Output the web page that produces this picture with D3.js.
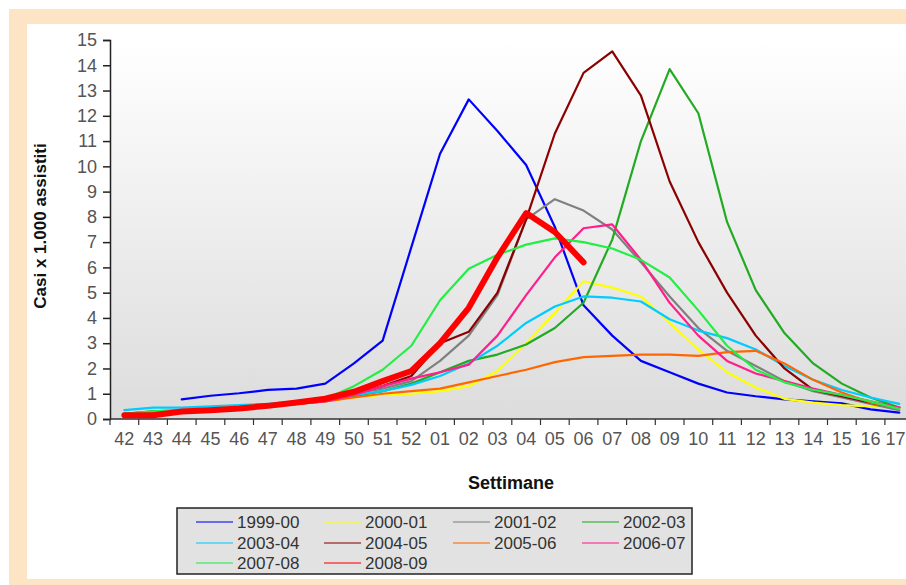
<!DOCTYPE html>
<html><head><meta charset="utf-8">
<script src="https://cdn.jsdelivr.net/npm/d3@7"></script>
<style>
html,body{margin:0;padding:0;background:#fff;}
svg{display:block;font-family:"Liberation Sans",Arial,sans-serif;}
</style></head>
<body>
<svg id="chart" width="906" height="585"></svg>
<script>
const categories = ["42","43","44","45","46","47","48","49","50","51","52","01","02","03","04","05","06","07","08","09","10","11","12","13","14","15","16","17"];
const yTicks = [0,1,2,3,4,5,6,7,8,9,10,11,12,13,14,15];
const seriesNames = ["1999-00","2000-01","2001-02","2002-03","2003-04","2004-05","2005-06","2006-07","2007-08","2008-09"];
const seriesColors = ["#0000ff","#ffff00","#808080","#22aa22","#00ccff","#8b0000","#ff6600","#ff1e8c","#22ee44","#ff0000"];
const s1999 = [null,null,0.78,0.92,1.02,1.15,1.2,1.4,2.2,3.1,6.8,10.5,12.65,11.4,10.05,7.6,4.5,3.3,2.3,1.85,1.4,1.05,0.9,0.78,0.7,0.62,0.38,0.25];
const s2000 = [0.2,0.3,0.35,0.4,0.45,0.55,0.6,0.7,0.85,0.95,1.0,1.1,1.3,1.9,3.0,4.2,5.45,5.2,4.85,3.8,2.75,1.85,1.25,0.8,0.65,0.55,0.5,0.45];
const s2001 = [0.2,0.3,0.35,0.4,0.45,0.55,0.65,0.75,1.0,1.2,1.5,2.3,3.3,4.9,7.9,8.7,8.25,7.5,6.2,4.85,3.6,2.7,2.1,1.5,1.1,0.85,0.6,0.35];
const s2002 = [0.2,0.3,0.3,0.4,0.45,0.55,0.6,0.7,0.9,1.1,1.4,1.85,2.3,2.55,2.95,3.6,4.6,7.1,11.0,13.85,12.1,7.8,5.1,3.4,2.2,1.4,0.85,0.45];
const s2003 = [0.35,0.45,0.45,0.5,0.55,0.6,0.7,0.8,0.95,1.1,1.35,1.7,2.2,2.9,3.8,4.45,4.85,4.8,4.65,3.95,3.5,3.2,2.75,2.1,1.55,1.15,0.85,0.6];
const s2004 = [0.15,0.2,0.3,0.35,0.45,0.55,0.65,0.8,1.0,1.3,1.7,3.0,3.45,5.0,7.9,11.3,13.7,14.55,12.8,9.4,7.0,5.0,3.3,2.0,1.15,0.9,0.65,0.45];
const s2005 = [0.15,0.2,0.3,0.35,0.4,0.5,0.6,0.7,0.85,1.0,1.1,1.2,1.45,1.7,1.95,2.25,2.45,2.5,2.55,2.55,2.5,2.65,2.7,2.2,1.55,1.05,0.65,0.45];
const s2006 = [0.15,0.2,0.3,0.35,0.4,0.5,0.6,0.7,0.95,1.3,1.6,1.85,2.15,3.3,4.9,6.4,7.55,7.7,6.3,4.6,3.3,2.3,1.8,1.5,1.2,0.95,0.7,0.45];
const s2007 = [0.2,0.3,0.35,0.4,0.5,0.55,0.65,0.8,1.3,1.95,2.9,4.7,5.95,6.5,6.9,7.15,7.0,6.75,6.3,5.6,4.3,2.9,1.95,1.45,1.15,0.95,0.7,0.4];
const s2008 = [0.15,0.15,0.3,0.35,0.42,0.52,0.65,0.8,1.08,1.5,1.9,3.0,4.4,6.4,8.15,7.4,6.2,null,null,null,null,null,null,null,null,null,null,null];
const seriesValues = [s1999,s2000,s2001,s2002,s2003,s2004,s2005,s2006,s2007,s2008];

const svg = d3.select("#chart");
// frame
svg.append("rect").attr("x",9).attr("y",9).attr("width",897).attr("height",576).attr("fill","#fde4c4");
svg.append("rect").attr("x",27).attr("y",24).attr("width",879).attr("height",555).attr("fill","#ffffff");

const plotL = 110, plotT = 40, plotB = 419, band = 28.7;
const x = d3.scaleBand().domain(categories).range([plotL, plotL + band*categories.length]).padding(0);
const y = d3.scaleLinear().domain([0,15]).range([plotB, plotT]);

const defs = svg.append("defs");
const grad = defs.append("linearGradient").attr("id","bg").attr("x1",0).attr("y1",0).attr("x2",0).attr("y2",1);
grad.append("stop").attr("offset","0%").attr("stop-color","#ffffff");
grad.append("stop").attr("offset","100%").attr("stop-color","#dcdcdc");
svg.append("rect").attr("x",plotL).attr("y",plotT).attr("width",906-plotL).attr("height",plotB-plotT).attr("fill","url(#bg)");

// y axis
const yAxis = svg.append("g").attr("transform",`translate(${plotL},0)`)
  .call(d3.axisLeft(y).tickValues(yTicks).tickSize(7).tickPadding(6).tickFormat(d3.format("d")));
yAxis.select(".domain").attr("stroke","#222").attr("stroke-width",1.5);
yAxis.selectAll(".tick line").attr("stroke","#222").attr("stroke-width",1.5);
yAxis.selectAll("text").attr("font-size",18).attr("fill","#555").attr("font-family","Liberation Sans, Arial");

// x axis
const xAxis = svg.append("g").attr("transform",`translate(0,${plotB})`)
  .call(d3.axisBottom(x).tickSize(0).tickPadding(26));
xAxis.select(".domain").remove();
xAxis.selectAll("text").attr("font-size",18).attr("fill","#555").attr("font-family","Liberation Sans, Arial").attr("dy","0");
// keep last label inside the page
xAxis.selectAll(".tick").filter(d=>d==="17").select("text").attr("text-anchor","end").attr("x",x.bandwidth()/2 - 8);
svg.append("line").attr("x1",plotL).attr("x2",906).attr("y1",plotB).attr("y2",plotB).attr("stroke","#333").attr("stroke-width",1.5);
svg.append("g").selectAll("line").data(categories).join("line")
  .attr("x1",d=>x(d)).attr("x2",d=>x(d)).attr("y1",plotB).attr("y2",plotB+6)
  .attr("stroke","#333").attr("stroke-width",1.2);

// titles
svg.append("text").attr("transform","translate(46,226) rotate(-90)").attr("text-anchor","middle")
  .attr("font-size",17).attr("font-weight","bold").attr("fill","#111").text("Casi x 1.000 assistiti");
svg.append("text").attr("x",511).attr("y",489).attr("text-anchor","middle")
  .attr("font-size",18).attr("font-weight","bold").attr("fill","#111").text("Settimane");

// lines
const line = d3.line().defined(d=>d.v!=null).x(d=>x(d.c)+x.bandwidth()/2).y(d=>y(d.v));
const gLines = svg.append("g");
seriesValues.forEach((vals,i)=>{
  const pts = categories.map((c,j)=>({c, v: vals[j]}));
  gLines.append("path").datum(pts).attr("d",line).attr("fill","none")
    .attr("stroke",seriesColors[i]).attr("stroke-width", i===9 ? 6 : 2.2)
    .attr("stroke-linejoin","round").attr("stroke-linecap","round");
});

// legend
const lg = svg.append("g");
lg.append("rect").attr("x",177).attr("y",508).attr("width",515).attr("height",66)
  .attr("fill","#e2e2e2").attr("stroke","#222").attr("stroke-width",1.5);
const colX = [196,324,453,582], rowY = [522,543,563];
seriesNames.forEach((n,i)=>{
  const cx = colX[i%4], cy = rowY[Math.floor(i/4)];
  lg.append("line").attr("x1",cx).attr("x2",cx+37).attr("y1",cy).attr("y2",cy)
    .attr("stroke",seriesColors[i]).attr("stroke-width",1.5).attr("opacity",0.7);
  lg.append("text").attr("x",cx+41).attr("y",cy+6).attr("font-size",17).attr("fill","#333").text(n);
});
</script>
</body></html>
